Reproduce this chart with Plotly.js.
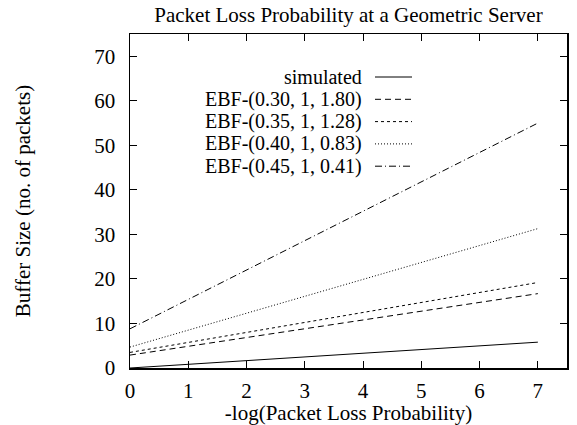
<!DOCTYPE html>
<html>
<head>
<meta charset="utf-8">
<script src="https://cdn.plot.ly/plotly-3.0.1.min.js"></script>
<style>html,body{margin:0;padding:0;background:#fff;}#chart{width:577px;height:425px;}</style>
</head>
<body>
<div id="chart"></div>
<script>
var xVals = [0, 7];
var seriesNames = ["simulated", "EBF-(0.30, 1, 1.80)", "EBF-(0.35, 1, 1.28)", "EBF-(0.40, 1, 0.83)", "EBF-(0.45, 1, 0.41)"];
var simulated = [0.0, 5.8];
var ebf030 = [2.9, 16.7];
var ebf035 = [3.5, 19.2];
var ebf040 = [4.7, 31.3];
var ebf045 = [8.8, 55.0];
var xTicks = [0, 1, 2, 3, 4, 5, 6, 7];
var yTicks = [0, 10, 20, 30, 40, 50, 60, 70];

var dashes = ["solid", "6px,4px", "3px,3px", "1px,2px", "7px,3px,1px,3px"];
var allY = [simulated, ebf030, ebf035, ebf040, ebf045];
var font = '"Liberation Serif", "Times New Roman", Times, serif';
var FS = 21;
var LFS = 20;

var traces = allY.map(function (ys, i) {
  return {
    x: xVals, y: ys, type: "scatter", mode: "lines", name: seriesNames[i],
    line: {color: "#000", width: 1, dash: dashes[i]}, showlegend: false
  };
});

var L = 130, R = 567, T = 34, B = 368;
var W = R - L, H = B - T;
var annotations = [];
var shapes = [];
var legTop = 77, legStep = 22.3;
for (var i = 0; i < seriesNames.length; i++) {
  var yp = legTop + i * legStep;
  annotations.push({
    xref: "paper", yref: "paper",
    x: (363 - L) / W, y: 1 - (yp - T) / H,
    xanchor: "right", yanchor: "middle", showarrow: false, borderpad: 0,
    text: seriesNames[i], font: {family: font, size: LFS, color: "#000"}
  });
  shapes.push({
    type: "line", xref: "paper", yref: "paper",
    x0: (375 - L) / W, x1: (412 - L) / W,
    y0: 1 - (yp - T) / H, y1: 1 - (yp - T) / H,
    line: {color: "#000", width: 1, dash: dashes[i]}
  });
}

var layout = {
  width: 577, height: 425,
  margin: {l: L, r: 577 - R, t: T, b: 425 - B},
  paper_bgcolor: "#fff", plot_bgcolor: "#fff",
  font: {family: font, size: FS, color: "#000"},
  title: {text: "Packet Loss Probability at a Geometric Server", font: {family: font, size: FS, color: "#000"}, x: 0.5, xref: "paper", xanchor: "center", y: 1 - 15 / 425, yanchor: "middle"},
  xaxis: {
    range: [0, 7.5], tickvals: xTicks, ticktext: xTicks.map(String),
    ticks: "inside", ticklen: 7, tickwidth: 1, tickcolor: "#000",
    showline: true, linecolor: "#000", linewidth: 1.5, mirror: "ticks",
    showgrid: false, zeroline: false, ticklabelstandoff: 3,
    tickfont: {family: font, size: FS, color: "#000"},
    title: {text: "-log(Packet Loss Probability)", font: {family: font, size: FS, color: "#000"}, standoff: 3}
  },
  yaxis: {
    range: [0, 75], tickvals: yTicks, ticktext: yTicks.map(String),
    ticks: "inside", ticklen: 7, tickwidth: 1, tickcolor: "#000",
    showline: true, linecolor: "#000", linewidth: 1.5, mirror: "ticks",
    showgrid: false, zeroline: false, ticklabelstandoff: 9,
    tickfont: {family: font, size: FS, color: "#000"},
    title: {text: "Buffer Size (no. of packets)", font: {family: font, size: FS, color: "#000"}, standoff: 58}
  },
  annotations: annotations,
  shapes: shapes,
  showlegend: false
};

Plotly.newPlot("chart", traces, layout, {displayModeBar: false, staticPlot: true});
</script>
</body>
</html>
